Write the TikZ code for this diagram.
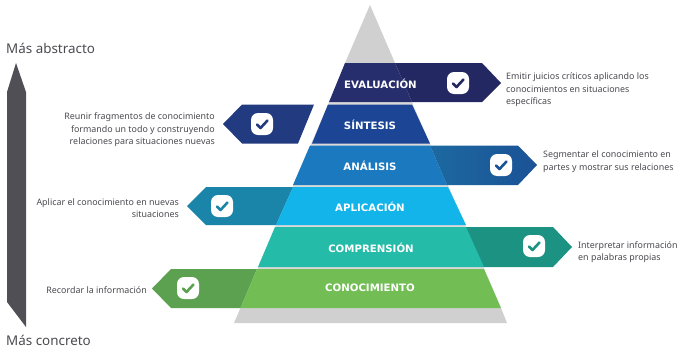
\documentclass[tikz,border=0pt]{standalone}
\usepackage{fontspec}
\setmainfont{Noto Sans}
\newfontfamily\lblfont{DejaVu Sans}
\definecolor{evalc}{HTML}{262E6E}
\definecolor{evala}{HTML}{232862}
\definecolor{sintc}{HTML}{1C4596}
\definecolor{sinta}{HTML}{223B80}
\definecolor{analc}{HTML}{1B79BF}
\definecolor{anala}{HTML}{1C69A0}
\definecolor{analb}{HTML}{1B5296}
\definecolor{aplic}{HTML}{12B4E9}
\definecolor{apla}{HTML}{1A85A8}
\definecolor{compc}{HTML}{25BBA9}
\definecolor{compa}{HTML}{1C9283}
\definecolor{conoc}{HTML}{72BE55}
\definecolor{cona}{HTML}{5CA14F}
\definecolor{pyrg}{HTML}{D0D0D0}
\definecolor{txtg}{HTML}{4A4A50}
\definecolor{barg}{HTML}{4F4F55}
\tikzset{
  band/.style={fill=#1,draw=none},
  lbl/.style={font=\lblfont\bfseries\fontsize{10.2}{12}\selectfont,text=white,inner sep=0pt},
  desc/.style={font=\fontsize{8.9}{12.6}\selectfont,text=txtg,inner sep=0pt,align=#1},
  endtext/.style={font=\fontsize{13.4}{16}\selectfont,text=txtg,inner sep=0pt,anchor=west},
  chkbox/.style={fill=white,rounded corners=7pt,minimum size=22pt,inner sep=0pt},
  chkmark/.style={draw=#1,line width=2.6pt,line cap=round,line join=round},
}
\newcommand{\chk}[4]{% name, x, y, colour
  \node[chkbox] (#1) at (#2,#3) {};
  \draw[chkmark=#4] ([shift={(-5,0.5)}]#1.center) -- ([shift={(-1.5,4)}]#1.center) -- ([shift={(5.5,-3.5)}]#1.center);
}
\begin{document}
\begin{tikzpicture}[x=1pt,y=-1pt]
\useasboundingbox (0,0) rectangle (679,351);
% grey pyramid ends
\fill[pyrg] (370,5) -- (395,63) -- (345,63) -- cycle;
\fill[pyrg] (240.5,308) -- (501,308) -- (507,323) -- (234,323) -- cycle;
\fill[pyrg!80] (329,102) -- (412,102) -- (501,308) -- (240.5,308) -- cycle;
% arrows
\fill[evala] (395,63) -- (482,63) -- (501,83) -- (482,102) -- (412,102) -- cycle;
\fill[sinta] (314,104.5) -- (242,104.5) -- (223,124) -- (242,143.5) -- (298,143.5) -- cycle;
\shade[left color=anala,right color=analb] (430,145.5) -- (518,145.5) -- (537,165) -- (518,185) -- (447,185) -- cycle;
\fill[apla] (293,187) -- (206,187) -- (187,206) -- (206,225) -- (276,225) -- cycle;
\fill[compa] (465,227) -- (553,227) -- (572,247) -- (553,267) -- (483,267) -- cycle;
\fill[cona] (257,269) -- (171,269) -- (152,288.5) -- (171,308) -- (240.5,308) -- cycle;
% bands
\fill[band=evalc] (345,63) -- (395,63) -- (412,102) -- (329,102) -- cycle;
\fill[band=sintc] (328,104.5) -- (412,104.5) -- (430,143.5) -- (312,143.5) -- cycle;
\fill[band=analc] (310,145.5) -- (430,145.5) -- (447,185) -- (293,185) -- cycle;
\fill[band=aplic] (293,187) -- (448,187) -- (466,225) -- (276,225) -- cycle;
\fill[band=compc] (275,227) -- (466,227) -- (484,267) -- (258,267) -- cycle;
\fill[band=conoc] (257,269) -- (484,269) -- (501,308) -- (240.5,308) -- cycle;
% labels
\node[lbl] (l1) at (380.5,83.5) {EVALUACIÓN};
\node[lbl] (l2) at (370,124.5) {SÍNTESIS};
\node[lbl] (l3) at (370,165.5) {ANÁLISIS};
\node[lbl] (l4) at (370,206.5) {APLICACIÓN};
\node[lbl] (l5) at (371,248) {COMPRENSIÓN};
\node[lbl] (l6) at (370,287.5) {CONOCIMIENTO};
% checks
\chk{c1}{458}{83}{evala}
\chk{c2}{262}{124}{sinta}
\chk{c3}{501}{165}{analb}
\chk{c4}{222}{206}{apla}
\chk{c5}{534}{246}{compa}
\chk{c6}{188}{288}{cona}
% descriptions
\node[desc=left,anchor=west] (d1) at (506,90) {Emitir juicios críticos aplicando los\\conocimientos en situaciones\\específicas};
\node[desc=right,anchor=east] (d2) at (215,130) {Reunir fragmentos de conocimiento\\formando un todo y construyendo\\relaciones para situaciones nuevas};
\node[desc=left,anchor=west] (d3) at (543,161.5) {Segmentar el conocimiento en\\partes y mostrar sus relaciones};
\node[desc=right,anchor=east] (d4) at (179,208) {Aplicar el conocimiento en nuevas\\situaciones};
\node[desc=left,anchor=west] (d5) at (578,252) {Interpretar información\\en palabras propias};
\node[desc=right,anchor=east] (d6) at (147,290) {Recordar la información};
% side bar
\fill[barg] (16,63) -- (26,92) -- (26,327) -- (7,302) -- (7,92) -- cycle;
\node[endtext] (t1) at (6,48.5) {Más abstracto};
\node[endtext] (t2) at (6,340) {Más concreto};
\end{tikzpicture}
\end{document}
